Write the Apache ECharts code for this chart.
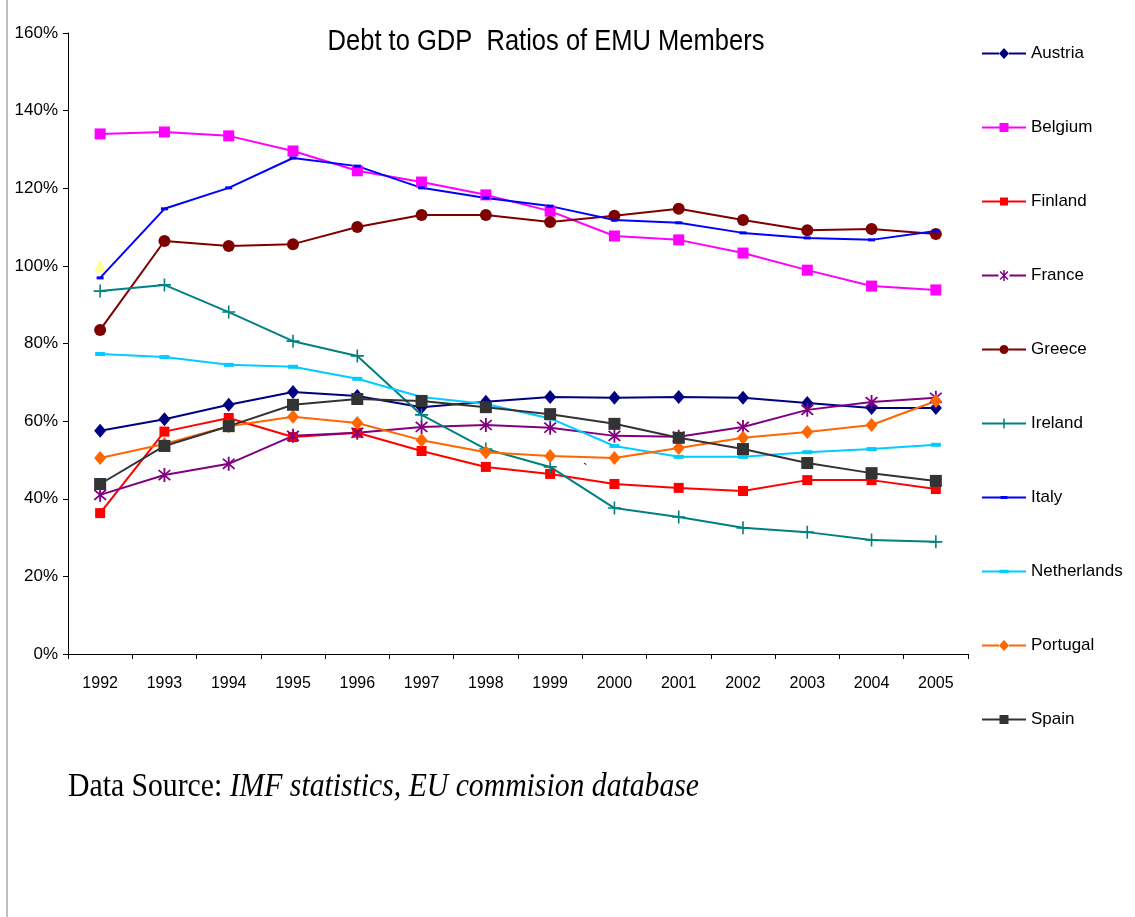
<!DOCTYPE html>
<html>
<head>
<meta charset="utf-8">
<script src="https://cdn.jsdelivr.net/npm/echarts@6/dist/echarts.min.js"></script>
<style>
  html, body { margin: 0; padding: 0; background: #fff; }
  #view { width: 1135px; height: 917px; }
</style>
</head>
<body>
<div id="view"></div>
<script>
var myChart = echarts.init(document.getElementById('view'));

var years = ['1992', '1993', '1994', '1995', '1996', '1997', '1998', '1999', '2000', '2001', '2002', '2003', '2004', '2005'];

var austria     = [57.5, 60.5, 64.2, 67.5, 66.5, 63.6, 65.0, 66.2, 66.0, 66.2, 66.0, 64.7, 63.4, 63.4];
var belgium     = [134.0, 134.5, 133.5, 129.6, 124.5, 121.6, 118.3, 114.1, 107.7, 106.7, 103.3, 98.9, 94.8, 93.8];
var finland     = [36.3, 57.3, 60.8, 55.9, 57.0, 52.3, 48.2, 46.4, 43.8, 42.8, 42.0, 44.8, 44.8, 42.5];
var france      = [41.0, 46.1, 49.0, 56.2, 57.0, 58.5, 59.0, 58.3, 56.2, 56.0, 58.5, 62.9, 64.9, 66.0];
var greece      = [83.5, 106.4, 105.1, 105.6, 110.0, 113.1, 113.1, 111.3, 112.9, 114.7, 111.8, 109.2, 109.5, 108.2];
var ireland     = [93.5, 95.1, 88.1, 80.6, 76.8, 61.6, 52.8, 48.2, 37.6, 35.3, 32.5, 31.4, 29.4, 28.9];
var italy       = [96.9, 114.7, 120.1, 127.8, 125.7, 120.1, 117.5, 115.4, 111.8, 111.1, 108.5, 107.2, 106.7, 109.0];
var netherlands = [77.3, 76.5, 74.5, 74.0, 70.9, 66.2, 64.4, 60.7, 53.6, 50.8, 50.8, 52.0, 52.8, 53.9];
var portugal    = [50.5, 54.1, 58.7, 61.1, 59.5, 55.1, 52.0, 51.0, 50.5, 53.1, 55.7, 57.2, 59.0, 65.2];
var spain       = [43.8, 53.6, 58.7, 64.2, 65.7, 65.2, 63.6, 61.8, 59.3, 55.7, 52.8, 49.2, 46.6, 44.6];
// stray marker drawn at 1992 only
var stray       = [100.0];

var yTicks = [0, 20, 40, 60, 80, 100, 120, 140, 160];

var sans = "'Liberation Sans', Arial, sans-serif";
var serif = "'Liberation Serif', 'Times New Roman', serif";

// polygon helpers, all drawn clockwise so nonzero fill leaves no holes
function poly(pts) {
    var s = 'M' + pts[0][0] + ',' + pts[0][1];
    for (var i = 1; i < pts.length; i++) s += 'L' + pts[i][0] + ',' + pts[i][1];
    return s + 'Z';
}
function rectP(cx, cy, w, h) {
    return poly([[cx - w / 2, cy - h / 2], [cx + w / 2, cy - h / 2], [cx + w / 2, cy + h / 2], [cx - w / 2, cy + h / 2]]);
}
function diamondP(cx, cy, w, h) {
    return poly([[cx, cy - h / 2], [cx + w / 2, cy], [cx, cy + h / 2], [cx - w / 2, cy]]);
}
function circleP(cx, cy, r) {
    return 'M' + (cx - r) + ',' + cy + 'A' + r + ',' + r + ',0,1,1,' + (cx + r) + ',' + cy +
        'A' + r + ',' + r + ',0,1,1,' + (cx - r) + ',' + cy + 'Z';
}
function plusP(cx, cy, s, t) {
    return rectP(cx, cy, t, s) + rectP(cx, cy, s, t);
}
function starP(cx, cy, s, t) {
    var a = s / 2 * 0.72, d = t / 2 * 0.71;
    return rectP(cx, cy, t, s) +
        poly([[cx - a - d, cy - a + d], [cx - a + d, cy - a - d], [cx + a + d, cy + a - d], [cx + a - d, cy + a + d]]) +
        poly([[cx + a - d, cy - a - d], [cx + a + d, cy - a + d], [cx - a + d, cy + a + d], [cx - a - d, cy + a - d]]);
}

var starPath = 'path://' + starP(0, 0, 14, 1.6);
var plusPath = 'path://' + plusP(0, 0, 13, 1.6);

// legend icon: line of 44 px split round the marker, 14 px tall box
function legendIcon(markW, markPath) {
    var gap = markW / 2;
    return 'path://' + rectP((22 - gap) / 2, 7, 22 - gap, 2) +
        rectP(22 + gap + (22 - gap) / 2, 7, 22 - gap, 2) + markPath +
        // tiny anchors keep the box 44 x 14
        rectP(0.01, 0.01, 0.02, 0.02) + rectP(43.99, 13.99, 0.02, 0.02);
}

function mkSeries(name, data, color, symbol, size) {
    return {
        name: name,
        type: 'line',
        data: data,
        symbol: symbol,
        symbolSize: size,
        showAllSymbol: true,
        lineStyle: { color: color, width: 2 },
        itemStyle: { color: color }
    };
}

var seriesd = [
    mkSeries('Austria', austria, '#000080', 'diamond', [12, 14]),
    mkSeries('Belgium', belgium, '#FF00FF', 'rect', 11),
    mkSeries('Finland', finland, '#FF0000', 'rect', 10),
    mkSeries('France', france, '#800080', starPath, [13, 14]),
    mkSeries('Greece', greece, '#800000', 'circle', 12),
    mkSeries('Ireland', ireland, '#008080', plusPath, 13),
    mkSeries('Italy', italy, '#0000FF', 'rect', [7, 3]),
    mkSeries('Netherlands', netherlands, '#00CCFF', 'rect', [10, 4]),
    mkSeries('Portugal', portugal, '#FF6600', 'diamond', [12, 14]),
    mkSeries('Spain', spain, '#333333', 'rect', 12),
    {
        name: 'stray',
        type: 'line',
        data: stray,
        symbol: 'triangle',
        symbolSize: 13,
        lineStyle: { width: 0 },
        itemStyle: { color: '#FFFF99' },
        z: 1
    }
];

var legendData = [
    { name: 'Austria', icon: legendIcon(10, diamondP(22, 7, 10, 11)) },
    { name: 'Belgium', icon: legendIcon(9, rectP(22, 7, 9, 9)) },
    { name: 'Finland', icon: legendIcon(8, rectP(22, 7, 8, 8)) },
    { name: 'France', icon: legendIcon(11, starP(22, 7, 11, 1.5)) },
    { name: 'Greece', icon: legendIcon(9, circleP(22, 7, 4.5)) },
    { name: 'Ireland', icon: legendIcon(0, plusP(22, 7, 10, 1.5)) },
    { name: 'Italy', icon: legendIcon(7, rectP(22, 7, 7, 3)) },
    { name: 'Netherlands', icon: legendIcon(9, rectP(22, 7, 9, 3.5)) },
    { name: 'Portugal', icon: legendIcon(10, diamondP(22, 7, 10, 11)) },
    { name: 'Spain', icon: legendIcon(9, rectP(22, 7, 9, 9)) }
];

var option = {
    backgroundColor: '#fff',
    animation: false,
    grid: {
        left: 68,
        right: 167,
        top: 33,
        bottom: 263
    },
    legend: {
        data: legendData,
        orient: 'vertical',
        left: 977,
        top: 40,
        itemWidth: 44,
        itemHeight: 14,
        itemGap: 57,
        symbolKeepAspect: true,
        textStyle: { fontFamily: sans, fontSize: 17, lineHeight: 14, color: '#000' }
    },
    xAxis: {
        type: 'category',
        data: years,
        boundaryGap: true,
        axisLine: { lineStyle: { color: '#000', width: 1 } },
        axisTick: { show: true, length: 5, lineStyle: { color: '#000' } },
        axisLabel: { color: '#000', fontFamily: sans, fontSize: 16, margin: 22 }
    },
    yAxis: {
        type: 'value',
        min: 0,
        max: 160,
        interval: 20,
        axisLine: { show: true, lineStyle: { color: '#000', width: 1 } },
        axisTick: { show: true, length: 5, lineStyle: { color: '#000' } },
        splitLine: { show: false },
        axisLabel: {
            color: '#000',
            fontFamily: sans,
            fontSize: 17,
            margin: 10,
            formatter: function (v) { return yTicks.indexOf(v) >= 0 ? v + '%' : ''; }
        }
    },
    graphic: [
        {
            type: 'line',
            shape: { x1: 7, y1: 0, x2: 7, y2: 917 },
            style: { stroke: '#aaaaaa', lineWidth: 1.5 }
        },
        {
            type: 'text',
            x: 546,
            y: 42,
            scaleX: 0.88,
            style: {
                text: 'Debt to GDP  Ratios of EMU Members',
                fontFamily: sans,
                fontSize: 29,
                fill: '#000',
                textAlign: 'center',
                textVerticalAlign: 'middle'
            }
        },
        {
            type: 'text',
            x: 68,
            y: 787,
            scaleX: 0.9,
            style: {
                rich: {
                    a: { fontFamily: serif, fontSize: 33, fill: '#000' },
                    b: { fontFamily: serif, fontSize: 33, fontStyle: 'italic', fill: '#000' }
                },
                text: '{a|Data Source: }{b|IMF statistics, EU commision database}',
                textVerticalAlign: 'middle'
            }
        },
        {
            type: 'text',
            x: 583,
            y: 470,
            style: { text: '`', fontSize: 14, fill: '#000', fontFamily: sans, textVerticalAlign: 'middle' }
        }
    ],
    series: seriesd
};

myChart.setOption(option);
</script>
</body>
</html>
